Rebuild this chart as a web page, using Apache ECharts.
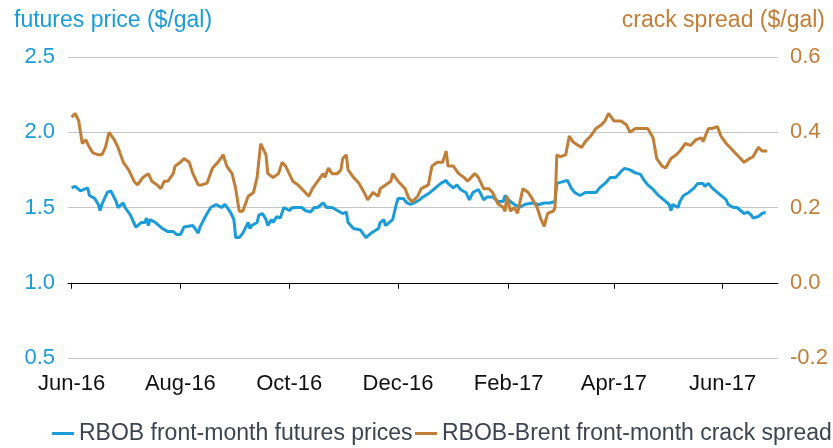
<!DOCTYPE html>
<html>
<head>
<meta charset="utf-8">
<script src="https://cdn.jsdelivr.net/npm/echarts@6/dist/echarts.min.js"></script>
<style>
  html, body { margin: 0; padding: 0; background: #fff; }
  #chart { width: 833px; height: 448px; }
</style>
</head>
<body>
<div id="chart"></div>
<script>
// RBOB front-month futures price ($/gal), left axis
var priceDates = ['2016-06-01','2016-06-03','2016-06-06','2016-06-08','2016-06-10','2016-06-11','2016-06-14','2016-06-16','2016-06-17','2016-06-18',
  '2016-06-21','2016-06-23','2016-06-26','2016-06-27','2016-06-30','2016-07-01','2016-07-04','2016-07-07','2016-07-10','2016-07-12',
  '2016-07-13','2016-07-14','2016-07-15','2016-07-18','2016-07-22','2016-07-25','2016-07-26','2016-07-28','2016-07-30','2016-08-01',
  '2016-08-03','2016-08-04','2016-08-08','2016-08-11','2016-08-12','2016-08-15','2016-08-18','2016-08-21','2016-08-24','2016-08-26',
  '2016-08-29','2016-08-31','2016-09-01','2016-09-03','2016-09-05','2016-09-08','2016-09-09','2016-09-10','2016-09-13','2016-09-14',
  '2016-09-16','2016-09-18','2016-09-19','2016-09-21','2016-09-22','2016-09-24','2016-09-26','2016-09-28','2016-10-01','2016-10-03',
  '2016-10-06','2016-10-08','2016-10-10','2016-10-13','2016-10-15','2016-10-17','2016-10-20','2016-10-22','2016-10-25','2016-10-28',
  '2016-10-31','2016-11-02','2016-11-03','2016-11-06','2016-11-07','2016-11-10','2016-11-13','2016-11-14','2016-11-16','2016-11-17',
  '2016-11-20','2016-11-21','2016-11-23','2016-11-24','2016-11-26','2016-11-28','2016-11-30','2016-12-01','2016-12-04','2016-12-06',
  '2016-12-08','2016-12-10','2016-12-13','2016-12-15','2016-12-19','2016-12-22','2016-12-25','2016-12-28','2016-12-29','2017-01-01',
  '2017-01-03','2017-01-05','2017-01-08','2017-01-10','2017-01-12','2017-01-15','2017-01-16','2017-01-18','2017-01-20','2017-01-23',
  '2017-01-26','2017-01-29','2017-01-30','2017-02-01','2017-02-03','2017-02-07','2017-02-10','2017-02-14','2017-02-18','2017-02-21',
  '2017-02-24','2017-02-27','2017-02-28','2017-03-03','2017-03-06','2017-03-08','2017-03-10','2017-03-13','2017-03-16','2017-03-20',
  '2017-03-22','2017-03-24','2017-03-27','2017-03-30','2017-04-02','2017-04-05','2017-04-07','2017-04-10','2017-04-13','2017-04-16',
  '2017-04-18','2017-04-20','2017-04-23','2017-04-26','2017-04-29','2017-05-02','2017-05-03','2017-05-04','2017-05-07','2017-05-08',
  '2017-05-10','2017-05-13','2017-05-16','2017-05-18','2017-05-21','2017-05-22','2017-05-24','2017-05-26','2017-05-29','2017-06-01',
  '2017-06-03','2017-06-04','2017-06-07','2017-06-09','2017-06-11','2017-06-13','2017-06-15','2017-06-17','2017-06-18','2017-06-21',
  '2017-06-23','2017-06-25'];
var priceValues = [1.63,1.64,1.61,1.62,1.63,1.58,1.56,1.52,1.48,1.52,
  1.60,1.61,1.54,1.50,1.53,1.50,1.45,1.37,1.40,1.40,
  1.43,1.38,1.42,1.40,1.36,1.34,1.33,1.34,1.32,1.32,
  1.37,1.36,1.38,1.33,1.37,1.44,1.50,1.52,1.50,1.52,
  1.47,1.42,1.30,1.30,1.33,1.40,1.36,1.38,1.40,1.45,
  1.46,1.42,1.38,1.42,1.40,1.44,1.43,1.50,1.48,1.50,
  1.50,1.50,1.48,1.47,1.50,1.50,1.53,1.50,1.50,1.48,
  1.46,1.47,1.40,1.36,1.35,1.35,1.30,1.30,1.33,1.34,
  1.36,1.40,1.42,1.38,1.40,1.42,1.52,1.56,1.56,1.53,
  1.52,1.53,1.55,1.57,1.60,1.63,1.66,1.68,1.66,1.63,
  1.65,1.62,1.60,1.55,1.60,1.62,1.60,1.55,1.57,1.57,
  1.54,1.54,1.58,1.55,1.53,1.50,1.52,1.53,1.52,1.53,
  1.53,1.54,1.66,1.67,1.68,1.63,1.60,1.58,1.60,1.60,
  1.60,1.63,1.66,1.70,1.70,1.74,1.76,1.75,1.73,1.72,
  1.68,1.65,1.62,1.58,1.55,1.52,1.48,1.52,1.50,1.54,
  1.58,1.60,1.63,1.66,1.66,1.64,1.66,1.63,1.60,1.57,
  1.55,1.52,1.50,1.50,1.48,1.46,1.47,1.45,1.43,1.44,
  1.46,1.47];

// RBOB-Brent front-month crack spread ($/gal), right axis
var crackDates = ['2016-06-01','2016-06-03','2016-06-05','2016-06-07','2016-06-09','2016-06-11','2016-06-13','2016-06-16','2016-06-18','2016-06-20',
  '2016-06-22','2016-06-25','2016-06-27','2016-06-30','2016-07-03','2016-07-06','2016-07-08','2016-07-11','2016-07-14','2016-07-16',
  '2016-07-19','2016-07-21','2016-07-23','2016-07-25','2016-07-28','2016-07-29','2016-08-01','2016-08-03','2016-08-06','2016-08-08',
  '2016-08-11','2016-08-13','2016-08-16','2016-08-19','2016-08-22','2016-08-25','2016-08-27','2016-08-30','2016-09-01','2016-09-03',
  '2016-09-05','2016-09-08','2016-09-11','2016-09-13','2016-09-15','2016-09-16','2016-09-18','2016-09-19','2016-09-22','2016-09-25',
  '2016-09-27','2016-09-29','2016-10-01','2016-10-03','2016-10-06','2016-10-08','2016-10-10','2016-10-12','2016-10-14','2016-10-17',
  '2016-10-20','2016-10-21','2016-10-23','2016-10-25','2016-10-28','2016-10-30','2016-10-31','2016-11-02','2016-11-03','2016-11-06',
  '2016-11-09','2016-11-12','2016-11-14','2016-11-17','2016-11-20','2016-11-21','2016-11-24','2016-11-27','2016-11-28','2016-12-01',
  '2016-12-03','2016-12-05','2016-12-07','2016-12-09','2016-12-12','2016-12-14','2016-12-15','2016-12-18','2016-12-20','2016-12-23',
  '2016-12-26','2016-12-28','2016-12-29','2017-01-01','2017-01-04','2017-01-07','2017-01-09','2017-01-11','2017-01-13','2017-01-15',
  '2017-01-18','2017-01-21','2017-01-23','2017-01-26','2017-01-29','2017-01-30','2017-01-31','2017-02-02','2017-02-04','2017-02-06',
  '2017-02-09','2017-02-12','2017-02-14','2017-02-17','2017-02-19','2017-02-21','2017-02-22','2017-02-23','2017-02-26','2017-02-27',
  '2017-02-28','2017-03-02','2017-03-05','2017-03-07','2017-03-09','2017-03-12','2017-03-14','2017-03-16','2017-03-19','2017-03-22',
  '2017-03-25','2017-03-27','2017-03-29','2017-04-01','2017-04-05','2017-04-08','2017-04-10','2017-04-13','2017-04-17','2017-04-20',
  '2017-04-23','2017-04-25','2017-04-28','2017-04-30','2017-05-03','2017-05-06','2017-05-08','2017-05-11','2017-05-14','2017-05-17',
  '2017-05-20','2017-05-21','2017-05-24','2017-05-26','2017-05-29','2017-05-31','2017-06-03','2017-06-05','2017-06-08','2017-06-11',
  '2017-06-13','2017-06-16','2017-06-18','2017-06-21','2017-06-23','2017-06-26'];
var crackValues = [0.44,0.45,0.43,0.37,0.38,0.36,0.345,0.34,0.34,0.36,
  0.40,0.38,0.36,0.32,0.30,0.27,0.26,0.28,0.29,0.27,
  0.26,0.25,0.27,0.27,0.29,0.31,0.32,0.33,0.32,0.29,
  0.26,0.26,0.265,0.305,0.32,0.34,0.31,0.29,0.25,0.19,
  0.19,0.23,0.24,0.28,0.37,0.37,0.34,0.29,0.28,0.29,
  0.32,0.31,0.29,0.27,0.26,0.25,0.24,0.23,0.25,0.27,
  0.29,0.28,0.305,0.29,0.29,0.30,0.33,0.34,0.30,0.28,
  0.265,0.24,0.22,0.24,0.23,0.25,0.26,0.27,0.29,0.27,
  0.26,0.25,0.225,0.215,0.23,0.25,0.25,0.26,0.31,0.32,
  0.32,0.35,0.31,0.31,0.29,0.28,0.27,0.28,0.29,0.28,
  0.25,0.25,0.24,0.21,0.20,0.19,0.23,0.19,0.20,0.185,
  0.25,0.24,0.225,0.20,0.17,0.15,0.17,0.185,0.19,0.20,
  0.34,0.335,0.34,0.39,0.375,0.365,0.36,0.375,0.39,0.41,
  0.42,0.43,0.45,0.43,0.43,0.42,0.40,0.41,0.41,0.41,
  0.385,0.33,0.31,0.305,0.33,0.34,0.35,0.37,0.365,0.38,
  0.385,0.375,0.41,0.41,0.415,0.39,0.37,0.36,0.345,0.33,
  0.32,0.33,0.335,0.36,0.35,0.35];

var seriesNames = ['RBOB front-month futures prices', 'RBOB-Brent front-month crack spread'];
var leftTicks = { min: 0.5, max: 2.5, interval: 0.5 };
var rightTicks = { min: -0.2, max: 0.6, interval: 0.2 };
var axisStart = '2016-05-30';
var axisEnd = '2017-07-02';
var labelMonths = [2, 4, 6, 8, 10, 12]; // Feb, Apr, Jun, Aug, Oct, Dec
var monthNames = ['Jan','Feb','Mar','Apr','May','Jun','Jul','Aug','Sep','Oct','Nov','Dec'];

var blue = '#1a9cd8';
var orange = '#c17e36';
var fontFam = '"Liberation Sans", Arial, sans-serif';

function pad(n) { return n < 10 ? '0' + n : '' + n }

// one category per calendar day
var days = [];
var d = new Date(axisStart + 'T00:00:00Z');
var end = new Date(axisEnd + 'T00:00:00Z');
while (d <= end) {
  days.push(d.getUTCFullYear() + '-' + pad(d.getUTCMonth() + 1) + '-' + pad(d.getUTCDate()));
  d = new Date(d.getTime() + 86400000);
}

function isLabelDay(index, value) {
  var m = parseInt(value.slice(5, 7), 10);
  return value.slice(8) === '01' && labelMonths.indexOf(m) >= 0;
}

function pairs(dates, vals) {
  return dates.map(function (dt, i) { return [dt, vals[i]] });
}

// each legend entry placed on its own so they sit on one row
function legendAt(left, name) {
  return {
    top: 422,
    left: left,
    padding: 0,
    itemWidth: 22,
    itemHeight: 3,
    icon: 'rect',
    textStyle: { color: '#3d4450', fontSize: 23, fontFamily: fontFam },
    data: [name]
  };
}

var myChart = echarts.init(document.getElementById('chart'));

var option = {
  animation: false,
  backgroundColor: '#fff',
  textStyle: { fontFamily: fontFam },
  title: [
    { text: 'futures price ($/gal)', left: 9, top: 4,
      textStyle: { color: blue, fontSize: 23, fontWeight: 'normal', fontFamily: fontFam } },
    { text: 'crack spread ($/gal)', right: 3, top: 4,
      textStyle: { color: orange, fontSize: 23, fontWeight: 'normal', fontFamily: fontFam } }
  ],
  grid: { left: 68, right: 55, top: 57, bottom: 90, containLabel: false },
  legend: [legendAt(52, seriesNames[0]), legendAt(415, seriesNames[1])],
  xAxis: {
    type: 'category',
    data: days,
    boundaryGap: false,
    axisLine: { lineStyle: { color: '#000', width: 1 } },
    axisTick: { show: true, interval: isLabelDay, length: 6, lineStyle: { color: '#000' } },
    axisLabel: {
      interval: isLabelDay,
      margin: 15,
      color: '#111',
      fontSize: 22,
      formatter: function (v) {
        return monthNames[parseInt(v.slice(5, 7), 10) - 1] + '-' + v.slice(2, 4);
      }
    },
    splitLine: { show: false }
  },
  yAxis: [
    {
      type: 'value',
      min: leftTicks.min, max: leftTicks.max, interval: leftTicks.interval,
      axisLine: { show: false },
      axisTick: { show: false },
      axisLabel: { color: blue, fontSize: 22, margin: 13,
        formatter: function (v) { return v.toFixed(1) } },
      splitLine: { show: true, lineStyle: { color: '#c6c6c6', width: 1 } }
    },
    {
      type: 'value',
      min: rightTicks.min, max: rightTicks.max, interval: rightTicks.interval,
      axisLine: { show: false },
      axisTick: { show: false },
      axisLabel: { color: orange, fontSize: 22, margin: 12,
        formatter: function (v) { return v.toFixed(1) } },
      splitLine: { show: false }
    }
  ],
  series: [
    {
      name: seriesNames[0],
      type: 'line',
      yAxisIndex: 0,
      showSymbol: false,
      symbol: 'none',
      color: blue,
      lineStyle: { color: blue, width: 3 },
      data: pairs(priceDates, priceValues),
      z: 3
    },
    {
      name: seriesNames[1],
      type: 'line',
      yAxisIndex: 1,
      showSymbol: false,
      symbol: 'none',
      color: orange,
      lineStyle: { color: orange, width: 3 },
      data: pairs(crackDates, crackValues),
      z: 4
    }
  ]
};

myChart.setOption(option);
</script>
</body>
</html>
